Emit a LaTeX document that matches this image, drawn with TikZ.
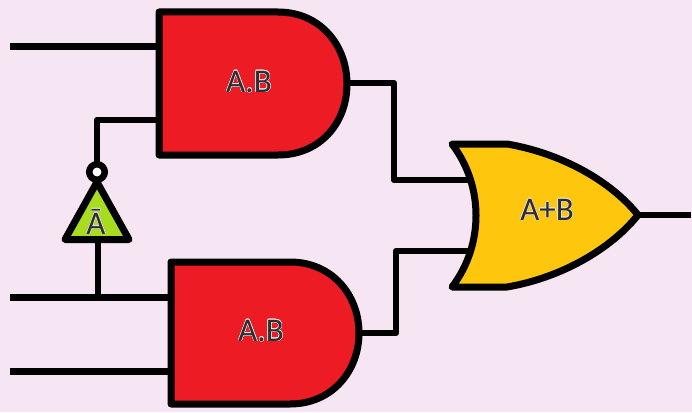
\documentclass[tikz,border=0pt]{standalone}
\usepackage{fontspec}
\setmainfont{Carlito}
\usepackage{contour}
\contourlength{0.45pt}
\usetikzlibrary{calc}
\definecolor{bgpink}{RGB}{246,230,243}
\definecolor{andred}{RGB}{237,28,36}
\definecolor{oryellow}{RGB}{255,198,14}
\definecolor{notgreen}{RGB}{168,220,30}
\definecolor{labelgray}{RGB}{45,45,50}
\definecolor{halogray}{RGB}{225,225,225}
\tikzset{
    wire/.style={line width=6.5pt,line join=round},
    gateline/.style={draw=black,line width=7pt,line join=round},
    gatelabel/.style={text=labelgray,font=\fontsize{33}{33}\selectfont,inner sep=0pt},
}
\begin{document}
\begin{tikzpicture}[x=1pt,y=-1pt]
    \useasboundingbox (0,0) rectangle (692,412);
    \fill[bgpink] (0,0) rectangle (692,412);

    % input ends
    \coordinate (In1) at (10,46.5);
    \coordinate (In2) at (10,297.5);
    \coordinate (In3) at (10,371.5);
    \coordinate (Out) at (691,215);

    % wires first, the gates cover their ends
    \coordinate (P1) at (159,46.5);
    \coordinate (P2) at (159,120);
    \coordinate (P3) at (97,120);
    \coordinate (P4) at (171,297.5);
    \coordinate (P5) at (171,371.5);
    \coordinate (P6) at (98,297.5);
    \coordinate (U1) at (347,83);
    \coordinate (U2) at (394,83);
    \coordinate (U3) at (394,180);
    \coordinate (U4) at (472,180);
    \coordinate (D1) at (359,333);
    \coordinate (D2) at (396,333);
    \coordinate (D3) at (396,251);
    \coordinate (D4) at (472,251);
    \coordinate (Tip) at (638,215);

    \draw[wire] (In1) -- (P1);
    \draw[wire] (In2) -- (P4);
    \draw[wire] (In3) -- (P5);
    \draw[wire] (P2) -- (P3) -- (97,170);
    \draw[wire] (P6) -- (98,240);
    \draw[wire] (U1) -- (U2) -- (U3) -- (U4);
    \draw[wire] (D1) -- (D2) -- (D3) -- (D4);
    \draw[wire] (Tip) -- (Out);

    % upper and gate
    \draw[gateline,fill=andred] (159,12) -- (278,12)
        .. controls (320,12) and (347,45) .. (347,84)
        .. controls (347,123) and (320,155) .. (278,155) -- (159,155) -- cycle;
    \node[gatelabel] (AndTop) at (249,82) {\contour{halogray}{A.B}};

    % lower and gate
    \draw[gateline,fill=andred] (171,262) -- (290,262)
        .. controls (332,262) and (359,295) .. (359,333)
        .. controls (359,371) and (332,404) .. (290,404) -- (171,404) -- cycle;
    \node[gatelabel] (AndBottom) at (261,331) {\contour{halogray}{A.B}};

    % or gate
    \draw[gateline,fill=oryellow] (452,144) -- (507,144)
        .. controls (560,153) and (610,180) .. (Tip)
        .. controls (610,250) and (560,278) .. (507,287) -- (452,287)
        .. controls (484,245) and (484,186) .. cycle;
    \node[gatelabel] (OrGate) at (547,210) {\contour{halogray}{A+B}};

    % not gate
    \draw[draw=black,line width=6.5pt,fill=white] (97,172) circle (7.75);
    \draw[draw=black,line width=7pt,line join=round,fill=notgreen] (97,182) -- (129,239.5) -- (65,239.5) -- cycle;
    \node[gatelabel] (NotGate) at (96,222) {\contour{halogray}{\=A}};
\end{tikzpicture}
\end{document}
